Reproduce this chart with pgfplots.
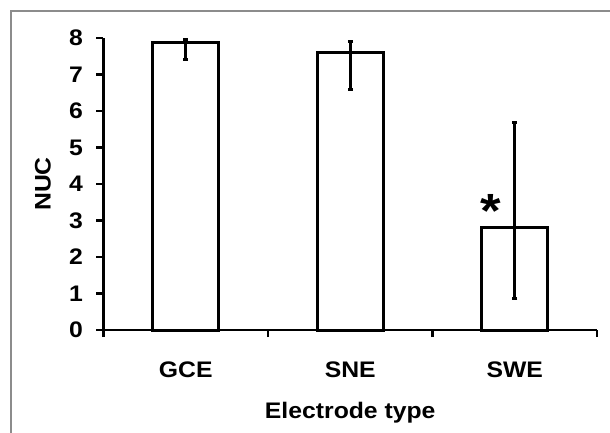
\documentclass[border=0pt]{standalone}
\usepackage{pgfplots}
\pgfplotsset{compat=1.18}
\usepackage{fontspec}
\setmainfont{Liberation Sans}[FakeStretch=1.1]
\definecolor{framegray}{RGB}{140,140,140}
\newcommand{\chartfont}{\fontsize{22.5}{26}\selectfont\bfseries}
\begin{document}
\begin{tikzpicture}
\useasboundingbox (-103.5pt,-103pt) rectangle (506.5pt,330pt);
\draw[framegray, line width=2pt] (-92.5pt,-103pt) -- (-92.5pt,319pt) -- (506.5pt,319pt);
\begin{axis}[
  at={(0,0)}, anchor=south west,
  scale only axis, width=493.5pt, height=292pt,
  xmin=-0.5, xmax=2.5, ymin=0, ymax=8,
  axis lines=left, axis line style={line width=2.5pt, -},
  xtick={0,1,2}, xticklabels={GCE,SNE,SWE},
  minor xtick={-0.5,0.5,1.5,2.5},
  ytick={0,1,...,8},
  major x tick style={draw=none},
  tick style={line width=2.5pt, black},
  tick align=outside, major tick length=7pt, minor tick length=7pt,
  tick label style={font=\chartfont},
  label style={font=\chartfont},
  /pgf/number format/assume math mode=true,
  xticklabel style={anchor=base, yshift=-40pt},
  yticklabel style={xshift=-10pt},
  ylabel={NUC}, xlabel={Electrode type},
  ylabel style={at={(axis description cs:-0.1226,0.5)}, anchor=center},
  xlabel style={at={(axis description cs:0.5,-0.3024)}, anchor=base},
  clip=false,
]
\addplot[ybar, bar width=0.4, fill=white, draw=black, line width=3pt,
  error bars/.cd, y dir=both, y explicit,
  error bar style={line width=3pt, black},
  error mark options={line width=3pt, mark size=2.5pt, rotate=90}]
  coordinates {
    (0,7.87) += (0,0.08) -= (0,0.45)
    (1,7.60) += (0,0.30) -= (0,1.01)
    (2,2.80) += (0,2.89) -= (0,1.94)
  };
\node[font=\fontsize{48}{48}\selectfont\bfseries] at (axis cs:1.856,3.25) {*};
\end{axis}
\end{tikzpicture}
\end{document}
